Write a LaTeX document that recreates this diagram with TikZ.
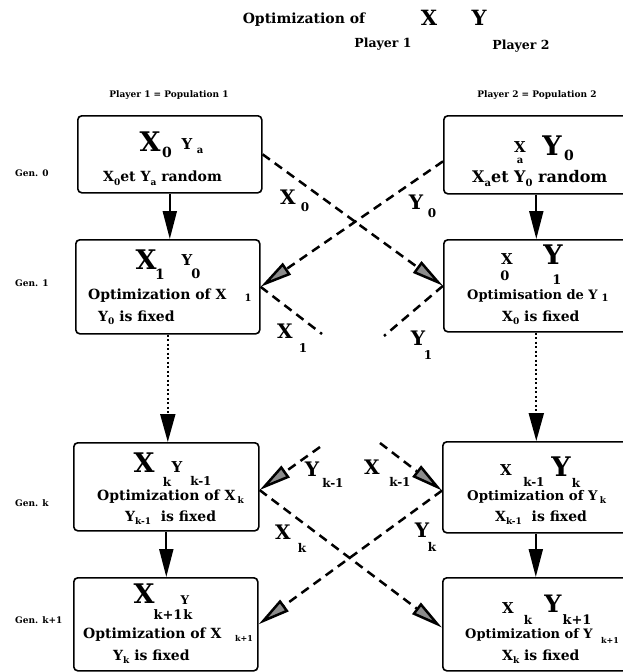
\documentclass[tikz,border=0pt]{standalone}
\usepackage{fontspec}
\setmainfont{DejaVu Serif}
\usetikzlibrary{arrows.meta}
\newcommand\fs[1]{\fontsize{#1}{#1}\selectfont}
\newcommand\lo[3]{\raisebox{-#1pt}{\fs{#2}#3}}
\begin{document}
\begin{tikzpicture}[x=1pt,y=-1pt,
  box/.style={draw, line width=1.6pt, rounded corners=4pt, anchor=north west, inner sep=0pt},
  t/.style={inner sep=0pt, font=\bfseries},
  flow/.style={line width=2pt, -{Triangle[length=28pt,width=14pt]}},
  dotflow/.style={line width=2pt, dash pattern=on 2pt off 2.5pt, -{Triangle[length=28pt,width=15pt]}},
  xch/.style={line width=2.5pt, dash pattern=on 9pt off 6pt, -{Triangle[length=32pt,width=14pt,fill=black!45]}},
  stub/.style={line width=2.5pt, dash pattern=on 9pt off 6pt}
]
\useasboundingbox (0,0) rectangle (623,672);

% title
\node[t] (tOpt) at (304,20) {\fs{14}Optimization of};
\node[t] (tX) at (429,18) {\fs{21}X};
\node[t] (tY) at (479,18) {\fs{21}Y};
\node[t] (tP1) at (383,44) {\fs{12.5}Player 1};
\node[t] (tP2) at (521,46) {\fs{12.5}Player 2};
\node[t] (pop1) at (169,95) {\fs{9}Player 1 = Population 1};
\node[t] (pop2) at (537,95) {\fs{9}Player 2 = Population 2};

% generation labels
\node[t, anchor=west] (g0) at (15,173) {\fs{9}Gen. 0};
\node[t, anchor=west] (g1) at (15,283) {\fs{9}Gen. 1};
\node[t, anchor=west] (gk) at (15,503) {\fs{9}Gen. k};
\node[t, anchor=west] (gk1) at (15,620) {\fs{9}Gen. k+1};

% boxes
\node[box, minimum width=184pt, minimum height=77pt] (A) at (77,115) {};
\node[box, minimum width=185pt, minimum height=78pt] (B) at (443,115) {};
\node[box, minimum width=184pt, minimum height=94pt] (C) at (75,239) {};
\node[box, minimum width=185pt, minimum height=92pt] (D) at (443,239) {};
\node[box, minimum width=185pt, minimum height=88pt] (E) at (73,442) {};
\node[box, minimum width=186pt, minimum height=91pt] (F) at (442,441) {};
\node[box, minimum width=184pt, minimum height=93pt] (G) at (73,577) {};
\node[box, minimum width=186pt, minimum height=93pt] (H) at (442,577) {};

% box A
\node[t] (aX) at (150,142) {\fs{27}X};
\node[t] (aXs) at (167,152) {\fs{14}0};
\node[t] (aY) at (187,144) {\fs{15}Y};
\node[t] (aYs) at (200,151) {\fs{10}a};
\node[t, anchor=west] (a2) at (103,178) {\fs{14}X\lo{4}{9}{0}et Y\lo{4}{9}{a} random};
% box B
\node[t] (bX) at (520,147) {\fs{15}X};
\node[t] (bXs) at (520,161) {\fs{10}a};
\node[t] (bY) at (552,146) {\fs{27}Y};
\node[t] (bYs) at (569,155) {\fs{14}0};
\node[t, anchor=west] (b2) at (472,178) {\fs{16}X\lo{4}{10}{a}et Y\lo{4}{10}{0} random};
% box C
\node[t] (cX) at (146,260) {\fs{27}X};
\node[t] (cXs) at (160,274) {\fs{14}1};
\node[t] (cY) at (187,260) {\fs{15}Y};
\node[t] (cYs) at (196,274) {\fs{13}0};
\node[t, anchor=west] (c2) at (88,296) {\fs{14}Optimization of X};
\node[t] (c2s) at (248,298) {\fs{10}1};
\node[t, anchor=west] (c3) at (98,318) {\fs{14}Y\lo{3}{9}{0}\ is fixed};
% box D
\node[t] (dX) at (507,259) {\fs{15}X};
\node[t] (dXs) at (505,276) {\fs{13}0};
\node[t] (dY) at (553,255) {\fs{27}Y};
\node[t] (dYs) at (557,280) {\fs{13}1};
\node[t, anchor=west] (d2) at (467,296) {\fs{13}Optimisation de Y};
\node[t] (d2s) at (605,298) {\fs{10}1};
\node[t, anchor=west] (d3) at (502,318) {\fs{14}X\lo{3}{9}{0}\ is fixed};
% box E
\node[t] (eX) at (144,463) {\fs{27}X};
\node[t] (eXs) at (167,482) {\fs{12}k};
\node[t] (eY) at (177,467) {\fs{15}Y};
\node[t] (eYs) at (201,481) {\fs{12}k-1};
\node[t, anchor=west] (e2) at (97,497) {\fs{14}Optimization of X\,\lo{3}{9}{k}};
\node[t, anchor=west] (e3) at (125,518) {\fs{14}Y\lo{3}{9}{k-1}\ \ is fixed};
% box F
\node[t] (fX) at (506,470) {\fs{15}X};
\node[t] (fXs) at (534,482) {\fs{12}k-1};
\node[t] (fY) at (561,467) {\fs{27}Y};
\node[t] (fYs) at (576,483) {\fs{12}k};
\node[t, anchor=west] (f2) at (467,497) {\fs{13.3}Optimization of Y\,\lo{3}{9}{k}};
\node[t, anchor=west] (f3) at (495,518) {\fs{14}X\lo{3}{9}{k-1}\ \ is fixed};
% box G
\node[t] (gX) at (144,594) {\fs{27}X};
\node[t] (gXs) at (168,615) {\fs{13}k+1};
\node[t] (gY) at (185,600) {\fs{12}Y};
\node[t] (gYs) at (188,615) {\fs{13}k};
\node[t, anchor=west] (g2) at (83,635) {\fs{14}Optimization of X};
\node[t] (g2s) at (244,638) {\fs{8}k+1};
\node[t, anchor=west] (g3) at (113,657) {\fs{14}Y\lo{3}{9}{k}\ is fixed};
% box H
\node[t] (hX) at (508,608) {\fs{15}X};
\node[t] (hXs) at (528,620) {\fs{12}k};
\node[t] (hY) at (553,604) {\fs{24}Y};
\node[t] (hYs) at (577,620) {\fs{13}k+1};
\node[t, anchor=west] (h2) at (465,635) {\fs{13}Optimization of Y};
\node[t] (h2s) at (610,640) {\fs{8}k+1};
\node[t, anchor=west] (h3) at (502,657) {\fs{14}X\lo{3}{9}{k}\ is fixed};

% vertical arrows
\draw[flow] (A.south) -- (A.south |- C.north);
\draw[flow] (B.south) -- (B.south |- D.north);
\draw[dotflow] (C.south) -- (C.south |- E.north);
\draw[dotflow] (D.south) -- (D.south |- F.north);
\draw[flow] (E.south) -- (E.south |- G.north);
\draw[flow] (F.south) -- (F.south |- H.north);

% exchange arrows
\coordinate (s1) at (322,334);
\coordinate (s2) at (384,336);
\coordinate (s3) at (320,447);
\coordinate (s4) at (380,443);
\draw[xch] (A.east) -- (D.west);
\draw[xch] (B.184) -- (C.east);
\draw[stub] (C.east) -- (s1);
\draw[stub] (D.west) -- (s2);
\draw[xch] (s3) -- (E.-2);
\draw[xch] (s4) -- (F.182);
\draw[xch] (E.-2) -- (H.182);
\draw[xch] (F.182) -- (G.east);

% exchange labels
\node[t] (lX0) at (288,197) {\fs{20}X};
\node[t] (lX0s) at (305,207) {\fs{12}0};
\node[t] (lY0) at (416,202) {\fs{20}Y};
\node[t] (lY0s) at (432,213) {\fs{12}0};
\node[t] (lX1) at (285,331) {\fs{20}X};
\node[t] (lX1s) at (303,348) {\fs{12}1};
\node[t] (lY1) at (418,338) {\fs{20}Y};
\node[t] (lY1s) at (428,355) {\fs{12}1};
\node[t] (lYk1) at (312,469) {\fs{20}Y};
\node[t] (lYk1s) at (333,483) {\fs{12}k-1};
\node[t] (lXk1) at (372,467) {\fs{20}X};
\node[t] (lXk1s) at (400,482) {\fs{12}k-1};
\node[t] (lXk) at (283,532) {\fs{20}X};
\node[t] (lXks) at (302,548) {\fs{12}k};
\node[t] (lYk) at (422,530) {\fs{20}Y};
\node[t] (lYks) at (432,547) {\fs{12}k};
\end{tikzpicture}
\end{document}
